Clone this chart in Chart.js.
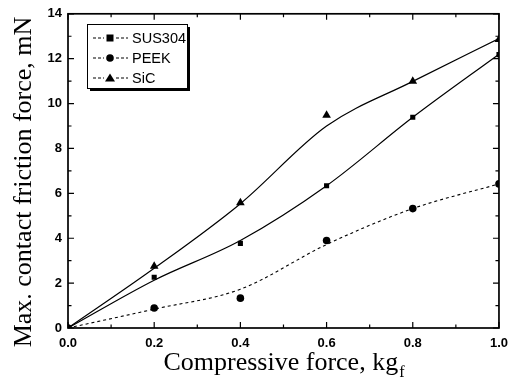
<!DOCTYPE html>
<html>
<head>
<meta charset="utf-8">
<script src="https://cdn.jsdelivr.net/npm/chart.js@4/dist/chart.umd.min.js"></script>
<style>
html,body{margin:0;padding:0;background:#fff;}
#wrap{width:516px;height:385px;position:relative;}
</style>
</head>
<body>
<div id="wrap"><canvas id="c" width="516" height="385"></canvas></div>
<script>
// ---- data ----
const forces = [0, 0.2, 0.4, 0.6, 0.8, 1.0];
const sus304 = [0, 2.26, 3.77, 6.34, 9.39, 12.18];
const peek   = [0, 0.89, 1.33, 3.90, 5.32, 6.42];
const sic    = [0, 2.75, 5.58, 9.48, 10.99, 12.85];
// fitted curves as drawn in the figure
const sus304Fit = [0, 2.13, 3.90, 6.34, 9.39, 12.20];
const peekFit   = [0, 0.84, 1.73, 3.72, 5.32, 6.42];
const sicFit    = [0, 2.66, 5.54, 9.00, 10.99, 12.90];
const xTicks = [0, 0.2, 0.4, 0.6, 0.8, 1.0];
const yTicks = [0, 2, 4, 6, 8, 10, 12, 14];
const seriesNames = ['SUS304', 'PEEK', 'SiC'];
const xTitle = 'Compressive force, kg';
const xTitleSub = 'f';
const yTitle = 'Max. contact friction force, mN';

const pts = (xs, ys) => xs.map((x, i) => ({x: x, y: ys[i]}));
const SERIF = '"Liberation Serif", "Times New Roman", serif';

const frame = {
  id: 'frame',
  afterDatasetsDraw(chart) {
    const ctx = chart.ctx, a = chart.chartArea;
    const xs = chart.scales.x, ys = chart.scales.y;
    ctx.save();
    ctx.strokeStyle = '#000';
    ctx.lineWidth = 1.7;
    ctx.strokeRect(a.left, a.top, a.right - a.left, a.bottom - a.top);
    ctx.lineWidth = 1.2;
    for (let i = 0; i <= 10; i++) {
      const v = i / 10;
      const px = xs.getPixelForValue(v);
      const len = (i % 2 === 0) ? 6 : 3.5;
      ctx.beginPath();
      ctx.moveTo(px, a.bottom); ctx.lineTo(px, a.bottom - len);
      ctx.moveTo(px, a.top); ctx.lineTo(px, a.top + len);
      ctx.stroke();
    }
    for (let v = 0; v <= 14; v++) {
      const py = ys.getPixelForValue(v);
      const len = (v % 2 === 0) ? 6 : 3.5;
      ctx.beginPath();
      ctx.moveTo(a.left, py); ctx.lineTo(a.left + len, py);
      ctx.moveTo(a.right, py); ctx.lineTo(a.right - len, py);
      ctx.stroke();
    }
    // legend
    const lx = 87, ly = 24, lw = 100, lh = 64;
    ctx.fillStyle = '#000';
    ctx.fillRect(lx + 3, ly + 3, lw, lh);
    ctx.fillStyle = '#fff';
    ctx.fillRect(lx, ly, lw, lh);
    ctx.lineWidth = 1;
    ctx.strokeRect(lx + 0.5, ly + 0.5, lw, lh);
    const rows = [38, 58, 78];
    const shapes = ['rect', 'circle', 'triangle'];
    ctx.font = '14.5px "Liberation Sans", Arial, sans-serif';
    ctx.textBaseline = 'middle';
    rows.forEach((ry, i) => {
      ctx.strokeStyle = '#000';
      ctx.lineWidth = 1;
      ctx.setLineDash([3, 2]);
      ctx.beginPath();
      ctx.moveTo(93, ry); ctx.lineTo(104, ry);
      ctx.moveTo(116, ry); ctx.lineTo(128, ry);
      ctx.stroke();
      ctx.setLineDash([]);
      ctx.fillStyle = '#000';
      const cx = 110;
      if (shapes[i] === 'rect') ctx.fillRect(cx - 3.5, ry - 3.5, 7, 7);
      else if (shapes[i] === 'circle') { ctx.beginPath(); ctx.arc(cx, ry, 3.8, 0, Math.PI * 2); ctx.fill(); }
      else { ctx.beginPath(); ctx.moveTo(cx, ry - 4.5); ctx.lineTo(cx + 5, ry + 3.5); ctx.lineTo(cx - 5, ry + 3.5); ctx.closePath(); ctx.fill(); }
      ctx.fillText(seriesNames[i], 132, ry + 1);
    });
    // axis titles
    ctx.fillStyle = '#000';
    ctx.textBaseline = 'alphabetic';
    ctx.font = '26px ' + SERIF;
    const mainW = ctx.measureText(xTitle).width;
    ctx.font = '16px ' + SERIF;
    const subW = ctx.measureText(xTitleSub).width;
    const cxT = (a.left + a.right) / 2;
    const startX = cxT - (mainW + subW) / 2;
    ctx.textAlign = 'left';
    ctx.font = '26px ' + SERIF;
    ctx.fillText(xTitle, startX, 370);
    ctx.font = '16px ' + SERIF;
    ctx.fillText(xTitleSub, startX + mainW + 1, 377);
    ctx.save();
    ctx.translate(31, 182);
    ctx.rotate(-Math.PI / 2);
    ctx.textAlign = 'center';
    ctx.font = '26px ' + SERIF;
    ctx.fillText(yTitle, 0, 0);
    ctx.restore();
    ctx.restore();
  }
};

const curveStyle = {showLine: true, pointRadius: 0, borderColor: '#000', borderWidth: 1.2, cubicInterpolationMode: 'monotone', fill: false};
const markStyle = {showLine: false, backgroundColor: '#000', borderColor: '#000', borderWidth: 0};
const tickFont = {family: '"Liberation Sans", Arial, sans-serif', size: 13, weight: 'bold'};

new Chart(document.getElementById('c'), {
  type: 'scatter',
  data: {
    datasets: [
      Object.assign({label: seriesNames[0] + ' fit', data: pts(forces, sus304Fit)}, curveStyle),
      Object.assign({label: seriesNames[1] + ' fit', data: pts(forces, peekFit)}, curveStyle, {borderDash: [3, 3], borderWidth: 1.1}),
      Object.assign({label: seriesNames[2] + ' fit', data: pts(forces, sicFit)}, curveStyle),
      Object.assign({label: seriesNames[0], data: pts(forces, sus304), pointStyle: 'rect', pointRadius: 3.6}, markStyle),
      Object.assign({label: seriesNames[1], data: pts(forces, peek), pointStyle: 'circle', pointRadius: 3.8}, markStyle),
      Object.assign({label: seriesNames[2], data: pts(forces, sic), pointStyle: 'triangle', pointRadius: 5}, markStyle)
    ]
  },
  options: {
    responsive: false,
    animation: false,
    devicePixelRatio: 1,
    layout: {padding: {top: 12, right: 17, left: 0, bottom: 0}},
    plugins: {legend: {display: false}, tooltip: {enabled: false}},
    scales: {
      x: {
        type: 'linear', min: 0, max: 1,
        afterBuildTicks: s => { s.ticks = xTicks.map(v => ({value: v})); },
        afterFit: s => { s.height = 57; },
        grid: {display: false, drawTicks: false},
        border: {display: false},
        ticks: {color: '#000', padding: 8, font: tickFont, callback: v => Number(v).toFixed(1), maxRotation: 0}
      },
      y: {
        type: 'linear', min: 0, max: 14,
        afterBuildTicks: s => { s.ticks = yTicks.map(v => ({value: v})); },
        afterFit: s => { s.width = 68; },
        grid: {display: false, drawTicks: false},
        border: {display: false},
        ticks: {color: '#000', padding: 6, font: tickFont}
      }
    }
  },
  plugins: [frame]
});
</script>
</body>
</html>
